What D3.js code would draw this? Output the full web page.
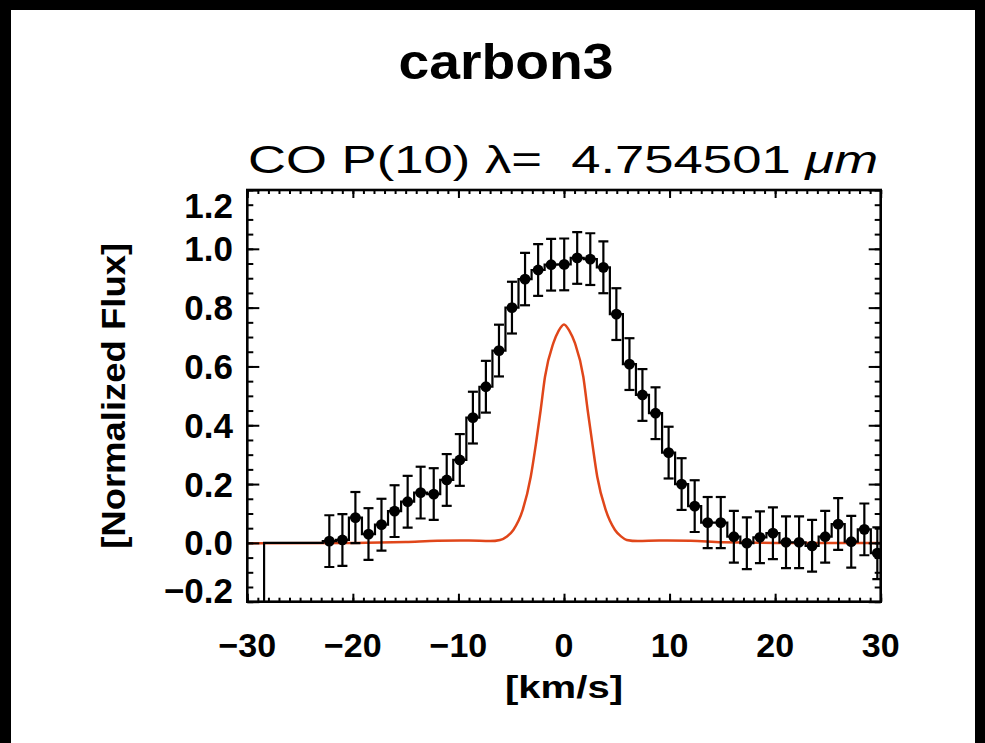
<!DOCTYPE html>
<html>
<head>
<meta charset="utf-8">
<script src="https://cdn.jsdelivr.net/npm/d3@7"></script>
<style>
  body { margin: 0; background: #000; }
  svg { display: block; }
  text { font-family: "Liberation Sans", Arial, sans-serif; fill: #000; }
</style>
</head>
<body>
<svg id="chart" width="985" height="743"></svg>
<script>
// ---- data -------------------------------------------------------------
// Observed line profile: bin centres (km/s), normalized flux and 1-sigma errors
const velocity = [
  -22.23, -20.99, -19.76, -18.52, -17.29, -16.05, -14.81, -13.58, -12.34, -11.11,
  -9.87, -8.63, -7.40, -6.16, -4.93, -3.69, -2.45, -1.22, 0.02, 1.25,
  2.49, 3.73, 4.96, 6.20, 7.43, 8.67, 9.91, 11.14, 12.38, 13.61,
  14.85, 16.09, 17.32, 18.56, 19.79, 21.03, 22.27, 23.50, 24.74, 25.97,
  27.21, 28.45, 29.68
];
const flux = [
  0.006, 0.010, 0.086, 0.030, 0.062, 0.108, 0.140, 0.171, 0.166, 0.214,
  0.282, 0.426, 0.531, 0.654, 0.800, 0.897, 0.928, 0.946, 0.947, 0.969,
  0.965, 0.937, 0.778, 0.608, 0.503, 0.441, 0.307, 0.200, 0.125, 0.069,
  0.069, 0.021, -0.001, 0.019, 0.033, 0.002, 0.002, -0.010, 0.021, 0.064,
  0.004, 0.046, -0.035
];
const fluxErr = [
  0.088, 0.088, 0.087, 0.088, 0.088, 0.088, 0.088, 0.088, 0.088, 0.088,
  0.088, 0.088, 0.088, 0.088, 0.088, 0.089, 0.088, 0.088, 0.088, 0.088,
  0.088, 0.088, 0.088, 0.088, 0.088, 0.088, 0.088, 0.088, 0.088, 0.087,
  0.087, 0.088, 0.088, 0.088, 0.088, 0.088, 0.088, 0.088, 0.088, 0.088,
  0.088, 0.088, 0.088
];
// Empty leading bins of the spectrum (drawn in the histogram only)
const padVelocity = [-28.41, -27.17, -25.94, -24.70, -23.47];
const padFlux = [0, 0, 0, 0, 0];

// Model line profile
const modelVelocity = [
  -30, -20, -15, -12, -9, -7, -6.06, -5.4, -4.8, -3.91, -3.15, -2.65, -2.21, -1.80,
  -1.01, -0.5, 0, 0.5, 1.04, 1.83, 2.24, 2.68, 3.15, 3.95, 4.83, 5.4, 5.94,
  7, 9, 12, 15, 20, 30
];
const modelFlux = [
  -0.001, 0.000, 0.003, 0.007, 0.008, 0.006, 0.010, 0.022, 0.044, 0.112, 0.225, 0.339, 0.452, 0.565,
  0.679, 0.722, 0.743, 0.722, 0.679, 0.565, 0.452, 0.339, 0.225, 0.112, 0.044, 0.022, 0.010,
  0.006, 0.008, 0.007, 0.002, 0.000, 0.000
];

const xDomain = [-30, 30];
const yDomain = [-0.2, 1.2];
const xTicks = [-30, -20, -10, 0, 10, 20, 30];
const xMinorTicks = d3.range(-30, 30.5, 1);
const yTicks = [-0.2, 0.0, 0.2, 0.4, 0.6, 0.8, 1.0, 1.2];
const yMinorTicks = d3.range(-0.2, 1.2001, 0.05);

const titleText = "carbon3";
const lineName = "CO P(10) λ=  4.754501 ";
const lineUnit = "μm";
const xLabel = "[km/s]";
const yLabel = "[Normalized Flux]";

// ---- layout -----------------------------------------------------------
const W = 985, H = 743;
const plot = { left: 247.3, right: 880.7, top: 190, bottom: 601.7 };
const modelColor = "#e0461a";

const svg = d3.select("#chart");

// page: black surround with white drawing area
svg.append("rect").attr("width", W).attr("height", H).attr("fill", "#000");
svg.append("rect").attr("x", 11).attr("y", 10).attr("width", 975 - 11).attr("height", H - 10).attr("fill", "#fff");

const x = d3.scaleLinear().domain(xDomain).range([plot.left, plot.right]);
const y = d3.scaleLinear().domain(yDomain).range([plot.bottom, plot.top]);

svg.append("clipPath").attr("id", "plotClip")
  .append("rect")
  .attr("x", plot.left).attr("y", plot.top)
  .attr("width", plot.right - plot.left).attr("height", plot.bottom - plot.top);

const g = svg.append("g").attr("clip-path", "url(#plotClip)");

// model profile
const modelLine = d3.line().x((d, i) => x(modelVelocity[i])).y(d => y(d)).curve(d3.curveMonotoneX);
g.append("path")
  .attr("d", modelLine(modelFlux))
  .attr("fill", "none")
  .attr("stroke", modelColor)
  .attr("stroke-width", 2.5);

// observed spectrum as a histogram (steps at bin midpoints)
const binV = padVelocity.concat(velocity);
const binF = padFlux.concat(flux);
const stepPts = [[binV[0], yDomain[0] - 0.1]].concat(binV.map((v, i) => [v, binF[i]]));
const stepLine = d3.line().x(d => x(d[0])).y(d => y(d[1])).curve(d3.curveStep);
g.append("path")
  .attr("d", stepLine(stepPts))
  .attr("fill", "none")
  .attr("stroke", "#000")
  .attr("stroke-width", 2.2);

// error bars
const capHalf = 5;
const eb = g.append("g").attr("stroke", "#000").attr("stroke-width", 2.2);
velocity.forEach((v, i) => {
  const cx = x(v), y1 = y(flux[i] - fluxErr[i]), y2 = y(flux[i] + fluxErr[i]);
  eb.append("line").attr("x1", cx).attr("x2", cx).attr("y1", y1).attr("y2", y2);
  eb.append("line").attr("x1", cx - capHalf).attr("x2", cx + capHalf).attr("y1", y1).attr("y2", y1);
  eb.append("line").attr("x1", cx - capHalf).attr("x2", cx + capHalf).attr("y1", y2).attr("y2", y2);
});

// data points
g.append("g").selectAll("circle")
  .data(flux)
  .join("circle")
  .attr("cx", (d, i) => x(velocity[i]))
  .attr("cy", d => y(d))
  .attr("r", 5.4)
  .attr("fill", "#000");

// ---- axes (ticks pointing inward, on all four sides) ------------------
function styleAxis(sel) {
  sel.select(".domain").remove();
  sel.selectAll(".tick line").attr("stroke", "#000").attr("stroke-width", 2);
  sel.selectAll(".tick text").remove();
}
const axes = svg.append("g");
axes.append("g").attr("transform", `translate(0,${plot.bottom})`)
  .call(d3.axisBottom(x).tickValues(xMinorTicks).tickSize(-4).tickFormat("")).call(styleAxis);
axes.append("g").attr("transform", `translate(0,${plot.bottom})`)
  .call(d3.axisBottom(x).tickValues(xTicks).tickSize(-8).tickFormat("")).call(styleAxis);
axes.append("g").attr("transform", `translate(0,${plot.top})`)
  .call(d3.axisTop(x).tickValues(xMinorTicks).tickSize(-4).tickFormat("")).call(styleAxis);
axes.append("g").attr("transform", `translate(0,${plot.top})`)
  .call(d3.axisTop(x).tickValues(xTicks).tickSize(-8).tickFormat("")).call(styleAxis);
axes.append("g").attr("transform", `translate(${plot.left},0)`)
  .call(d3.axisLeft(y).tickValues(yMinorTicks).tickSize(-6).tickFormat("")).call(styleAxis);
axes.append("g").attr("transform", `translate(${plot.left},0)`)
  .call(d3.axisLeft(y).tickValues(yTicks).tickSize(-12).tickFormat("")).call(styleAxis);
axes.append("g").attr("transform", `translate(${plot.right},0)`)
  .call(d3.axisRight(y).tickValues(yMinorTicks).tickSize(-6).tickFormat("")).call(styleAxis);
axes.append("g").attr("transform", `translate(${plot.right},0)`)
  .call(d3.axisRight(y).tickValues(yTicks).tickSize(-12).tickFormat("")).call(styleAxis);

// frame
axes.append("rect")
  .attr("x", plot.left).attr("y", plot.top)
  .attr("width", plot.right - plot.left).attr("height", plot.bottom - plot.top)
  .attr("fill", "none").attr("stroke", "#000").attr("stroke-width", 2.6);

// tick labels
const fmtY = d3.format(".1f");
const fmtX = d3.format("d");
svg.append("g").selectAll("text")
  .data(yTicks)
  .join("text")
  .attr("x", 233)
  .attr("y", d => Math.min(Math.max(y(d), plot.top + 15), plot.bottom - 11))
  .attr("dy", "0.36em")
  .attr("text-anchor", "end")
  .attr("font-size", 35)
  .attr("font-weight", "bold")
  .text(d => fmtY(d));

svg.append("g").selectAll("text")
  .data(xTicks)
  .join("text")
  .attr("x", d => x(d))
  .attr("y", 657)
  .attr("text-anchor", "middle")
  .attr("font-size", 34)
  .attr("font-weight", "bold")
  .text(d => fmtX(d));

// axis titles
svg.append("text")
  .attr("x", x(0)).attr("y", 698)
  .attr("text-anchor", "middle")
  .attr("font-size", 32).attr("font-weight", "bold")
  .attr("textLength", 118).attr("lengthAdjust", "spacingAndGlyphs")
  .text(xLabel);

svg.append("text")
  .attr("transform", `translate(125,${(plot.top + plot.bottom) / 2}) rotate(-90)`)
  .attr("text-anchor", "middle")
  .attr("font-size", 33).attr("font-weight", "bold")
  .attr("textLength", 306).attr("lengthAdjust", "spacingAndGlyphs")
  .text(yLabel);

// titles
svg.append("text")
  .attr("x", 506).attr("y", 79)
  .attr("text-anchor", "middle")
  .attr("font-size", 50).attr("font-weight", "bold")
  .attr("textLength", 215).attr("lengthAdjust", "spacingAndGlyphs")
  .text(titleText);

const sub = svg.append("text")
  .attr("x", 563).attr("y", 173)
  .attr("text-anchor", "middle")
  .attr("font-size", 39)
  .attr("textLength", 630).attr("lengthAdjust", "spacingAndGlyphs")
  .attr("xml:space", "preserve")
  .style("white-space", "pre");
sub.append("tspan").text(lineName);
sub.append("tspan").attr("font-style", "italic").text(lineUnit);
</script>
</body>
</html>
